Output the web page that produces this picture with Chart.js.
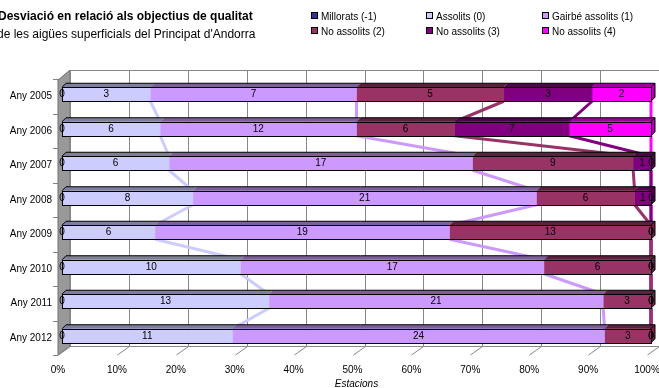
<!DOCTYPE html>
<html>
<head>
<meta charset="utf-8">
<script src="https://cdn.jsdelivr.net/npm/chart.js@4.4.1/dist/chart.umd.min.js"></script>
<style>
  body { margin: 0; background: #fff; font-family: "Liberation Sans", Arial, sans-serif; }
  #wrap { position: relative; width: 659px; height: 388px; overflow: hidden; }
  #chart-box { position: absolute; left: 0; top: 0; width: 659px; height: 388px; }
  .title { position: absolute; left: -2px; font-size: 12px; color: #000; white-space: nowrap; }
  .t1 { top: 9px; font-weight: bold; }
  .t2 { top: 27px; left: -3px; }
  .leg { position: absolute; font-size: 10px; color: #000; white-space: nowrap; line-height: 12px; }
  .leg i { display: inline-block; width: 5px; height: 5px; border: 1px solid #000; margin-right: 3px; vertical-align: 1px; }
</style>
</head>
<body>
<div id="wrap">
  <div id="chart-box"><canvas id="chart"></canvas></div>
  <div class="title t1">Desviació en relació als objectius de qualitat</div>
  <div class="title t2">de les aigües superficials del Principat d'Andorra</div>
  <div id="legend"></div>
</div>
<script>
// ================= DATA =================
const years = ['Any 2005', 'Any 2006', 'Any 2007', 'Any 2008', 'Any 2009', 'Any 2010', 'Any 2011', 'Any 2012'];
const seriesNames = ['Millorats (-1)', 'Assolits (0)', 'Gairbé assolits (1)', 'No assolits (2)', 'No assolits (3)', 'No assolits (4)'];
const seriesColors = ['#333399', '#CCCCFF', '#CC99FF', '#993366', '#800080', '#FF00FF'];

const millorats   = [0, 0, 0, 0, 0, 0, 0, 0];
const assolits    = [3, 6, 6, 8, 6, 10, 13, 11];
const gairbe      = [7, 12, 17, 21, 19, 17, 21, 24];
const noAssolits2 = [5, 6, 9, 6, 13, 6, 3, 3];
const noAssolits3 = [3, 7, 1, 1, 0, 0, 0, 0];
const noAssolits4 = [2, 5, 0, 0, 0, 0, 0, 0];

const xTicks = [0, 10, 20, 30, 40, 50, 60, 70, 80, 90, 100];

const series = [millorats, assolits, gairbe, noAssolits2, noAssolits3, noAssolits4];
const totals = years.map((_, i) => series.reduce((s, arr) => s + arr[i], 0));

// legend (3 columns x 2 rows, like the original)
const legendPos = [[311, 11], [426, 11], [542, 11], [311, 26], [426, 26], [542, 26]];
const legendEl = document.getElementById('legend');
seriesNames.forEach((name, k) => {
  const d = document.createElement('div');
  d.className = 'leg';
  d.style.left = legendPos[k][0] + 'px';
  d.style.top = legendPos[k][1] + 'px';
  d.innerHTML = '<i style="background:' + seriesColors[k] + '"></i>' + name;
  legendEl.appendChild(d);
});

function shade(hex, f) {
  const n = parseInt(hex.slice(1), 16);
  const r = Math.round(((n >> 16) & 255) * f);
  const g = Math.round(((n >> 8) & 255) * f);
  const b = Math.round((n & 255) * f);
  return `rgb(${r},${g},${b})`;
}

const DEPTH = 4;     // bar depth
const WALL_DX = 8;   // back wall offset
const WALL_DY = 7;

// ================= 3D WALLS, GRID, SERIES LINES =================
const threeD = {
  id: 'threeD',
  beforeDatasetsDraw(chart) {
    const { ctx, chartArea: a, scales: { x } } = chart;
    const top = a.top - WALL_DY;
    const floorBack = a.bottom - WALL_DY;
    const floorFront = a.bottom + 2;
    const x0 = x.getPixelForValue(0);
    const x100 = x.getPixelForValue(100);
    ctx.save();

    // left wall
    ctx.fillStyle = '#999999';
    ctx.strokeStyle = '#707070';
    ctx.lineWidth = 1;
    ctx.beginPath();
    ctx.moveTo(x0 + WALL_DX, top);
    ctx.lineTo(x0 + WALL_DX, floorBack);
    ctx.lineTo(x0 - 4, floorFront);
    ctx.lineTo(x0 - 4, top + 10);
    ctx.closePath();
    ctx.fill();
    ctx.stroke();

    // back wall grid
    ctx.strokeStyle = '#888';
    ctx.beginPath();
    xTicks.forEach(v => {
      const px = Math.round(x.getPixelForValue(v) + WALL_DX) + 0.5;
      ctx.moveTo(px, top);
      ctx.lineTo(px, floorBack);
      // floor lines
      ctx.moveTo(px, floorBack + 0.5);
      ctx.lineTo(px - 12, floorFront);
    });
    ctx.moveTo(x0 + WALL_DX, top + 0.5);
    ctx.lineTo(x100 + WALL_DX, top + 0.5);
    ctx.moveTo(x0 + WALL_DX, floorBack + 0.5);
    ctx.lineTo(x100 + WALL_DX, floorBack + 0.5);
    ctx.stroke();

    // category tick marks on the wall front edge
    ctx.strokeStyle = '#808080';
    ctx.beginPath();
    const step = (a.bottom - a.top) / years.length;
    for (let i = 0; i <= years.length; i++) {
      const py = Math.round(a.top + step * i + 2) + 0.5;
      ctx.moveTo(x0 - 9, py);
      ctx.lineTo(x0 - 4, py);
    }
    ctx.stroke();

    // series lines (drawn behind the bars)
    const meta = chart.getDatasetMeta(1).data;
    ctx.lineWidth = 3;
    ctx.lineJoin = 'round';
    for (let k = series.length - 1; k >= 1; k--) {
      ctx.strokeStyle = seriesColors[k];
      ctx.beginPath();
      for (let i = 0; i < years.length - 1; i++) {
        const cumA = series.slice(0, k + 1).reduce((s, arr) => s + arr[i], 0) / totals[i] * 100;
        const cumB = series.slice(0, k + 1).reduce((s, arr) => s + arr[i + 1], 0) / totals[i + 1] * 100;
        const ea = meta[i], eb = meta[i + 1];
        ctx.moveTo(x.getPixelForValue(cumA), ea.y + ea.height / 2);
        ctx.lineTo(x.getPixelForValue(cumB), eb.y - eb.height / 2);
      }
      ctx.stroke();
    }
    ctx.restore();
  },

  afterDatasetsDraw(chart) {
    const { ctx, scales: { x } } = chart;
    const x0 = x.getPixelForValue(0);
    const x100 = x.getPixelForValue(100);
    ctx.save();
    ctx.lineWidth = 1;

    years.forEach((_, i) => {
      const ref = chart.getDatasetMeta(0).data[i];
      const t = ref.y - ref.height / 2;
      const b = ref.y + ref.height / 2;
      let lastColor = seriesColors[1];

      // top faces
      series.forEach((arr, k) => {
        const el = chart.getDatasetMeta(k).data[i];
        const xa = Math.min(el.base, el.x), xb = Math.max(el.base, el.x);
        if (xb - xa <= 0) return;
        lastColor = seriesColors[k];
        ctx.fillStyle = shade(seriesColors[k], 0.62);
        ctx.beginPath();
        ctx.moveTo(xa, t);
        ctx.lineTo(xb, t);
        ctx.lineTo(xb + DEPTH, t - DEPTH);
        ctx.lineTo(xa + DEPTH, t - DEPTH);
        ctx.closePath();
        ctx.fill();
      });

      // right face
      ctx.fillStyle = shade(lastColor, 0.7);
      ctx.beginPath();
      ctx.moveTo(x100, t);
      ctx.lineTo(x100 + DEPTH, t - DEPTH);
      ctx.lineTo(x100 + DEPTH, b - DEPTH);
      ctx.lineTo(x100, b);
      ctx.closePath();
      ctx.fill();

      // outlines
      ctx.strokeStyle = '#000';
      ctx.beginPath();
      ctx.moveTo(x0, t);
      ctx.lineTo(x0 + DEPTH, t - DEPTH);
      ctx.lineTo(x100 + DEPTH, t - DEPTH);
      ctx.lineTo(x100, t);
      ctx.moveTo(x100 + DEPTH, t - DEPTH);
      ctx.lineTo(x100 + DEPTH, b - DEPTH);
      ctx.lineTo(x100, b);
      ctx.stroke();
      ctx.strokeRect(Math.round(x0) + 0.5, Math.round(t) + 0.5, Math.round(x100 - x0), Math.round(b - t));
    });

    // value labels
    ctx.fillStyle = '#000';
    ctx.font = '10px "Liberation Sans", Arial, sans-serif';
    ctx.textAlign = 'center';
    ctx.textBaseline = 'middle';
    series.forEach((arr, k) => {
      chart.getDatasetMeta(k).data.forEach((el, i) => {
        ctx.fillText(String(arr[i]), (el.base + el.x) / 2, el.y);
      });
    });
    ctx.restore();
  }
};

Chart.defaults.font.family = '"Liberation Sans", Arial, sans-serif';
Chart.defaults.font.size = 10;
Chart.defaults.color = '#000';

new Chart(document.getElementById('chart'), {
  type: 'bar',
  data: {
    labels: years,
    datasets: series.map((arr, k) => ({
      label: seriesNames[k],
      data: arr.map((v, i) => v / totals[i] * 100),
      backgroundColor: seriesColors[k],
      borderWidth: 0,
      barThickness: 14
    }))
  },
  options: {
    indexAxis: 'y',
    responsive: true,
    maintainAspectRatio: false,
    animation: false,
    layout: { padding: { top: 77, right: 8, left: 0, bottom: 0 } },
    plugins: { legend: { display: false }, tooltip: { enabled: false } },
    scales: {
      x: {
        stacked: true,
        min: 0,
        max: 100,
        afterFit: s => { s.height = 35; s.paddingRight = 0; s.paddingLeft = 0; },
        afterBuildTicks: s => { s.ticks = xTicks.map(v => ({ value: v })); },
        ticks: { callback: v => v + '%', padding: 11, labelOffset: -4, maxRotation: 0, autoSkip: false },
        grid: { display: false, drawTicks: false },
        border: { display: false },
        title: { display: true, text: 'Estacions', font: { style: 'italic', size: 10 }, padding: { top: 0, bottom: -2 } }
      },
      y: {
        stacked: true,
        afterFit: s => { s.width = 62; },
        ticks: { padding: 10, labelOffset: 2 },
        grid: { display: false, drawTicks: false },
        border: { display: false }
      }
    }
  },
  plugins: [threeD]
});
</script>
</body>
</html>
